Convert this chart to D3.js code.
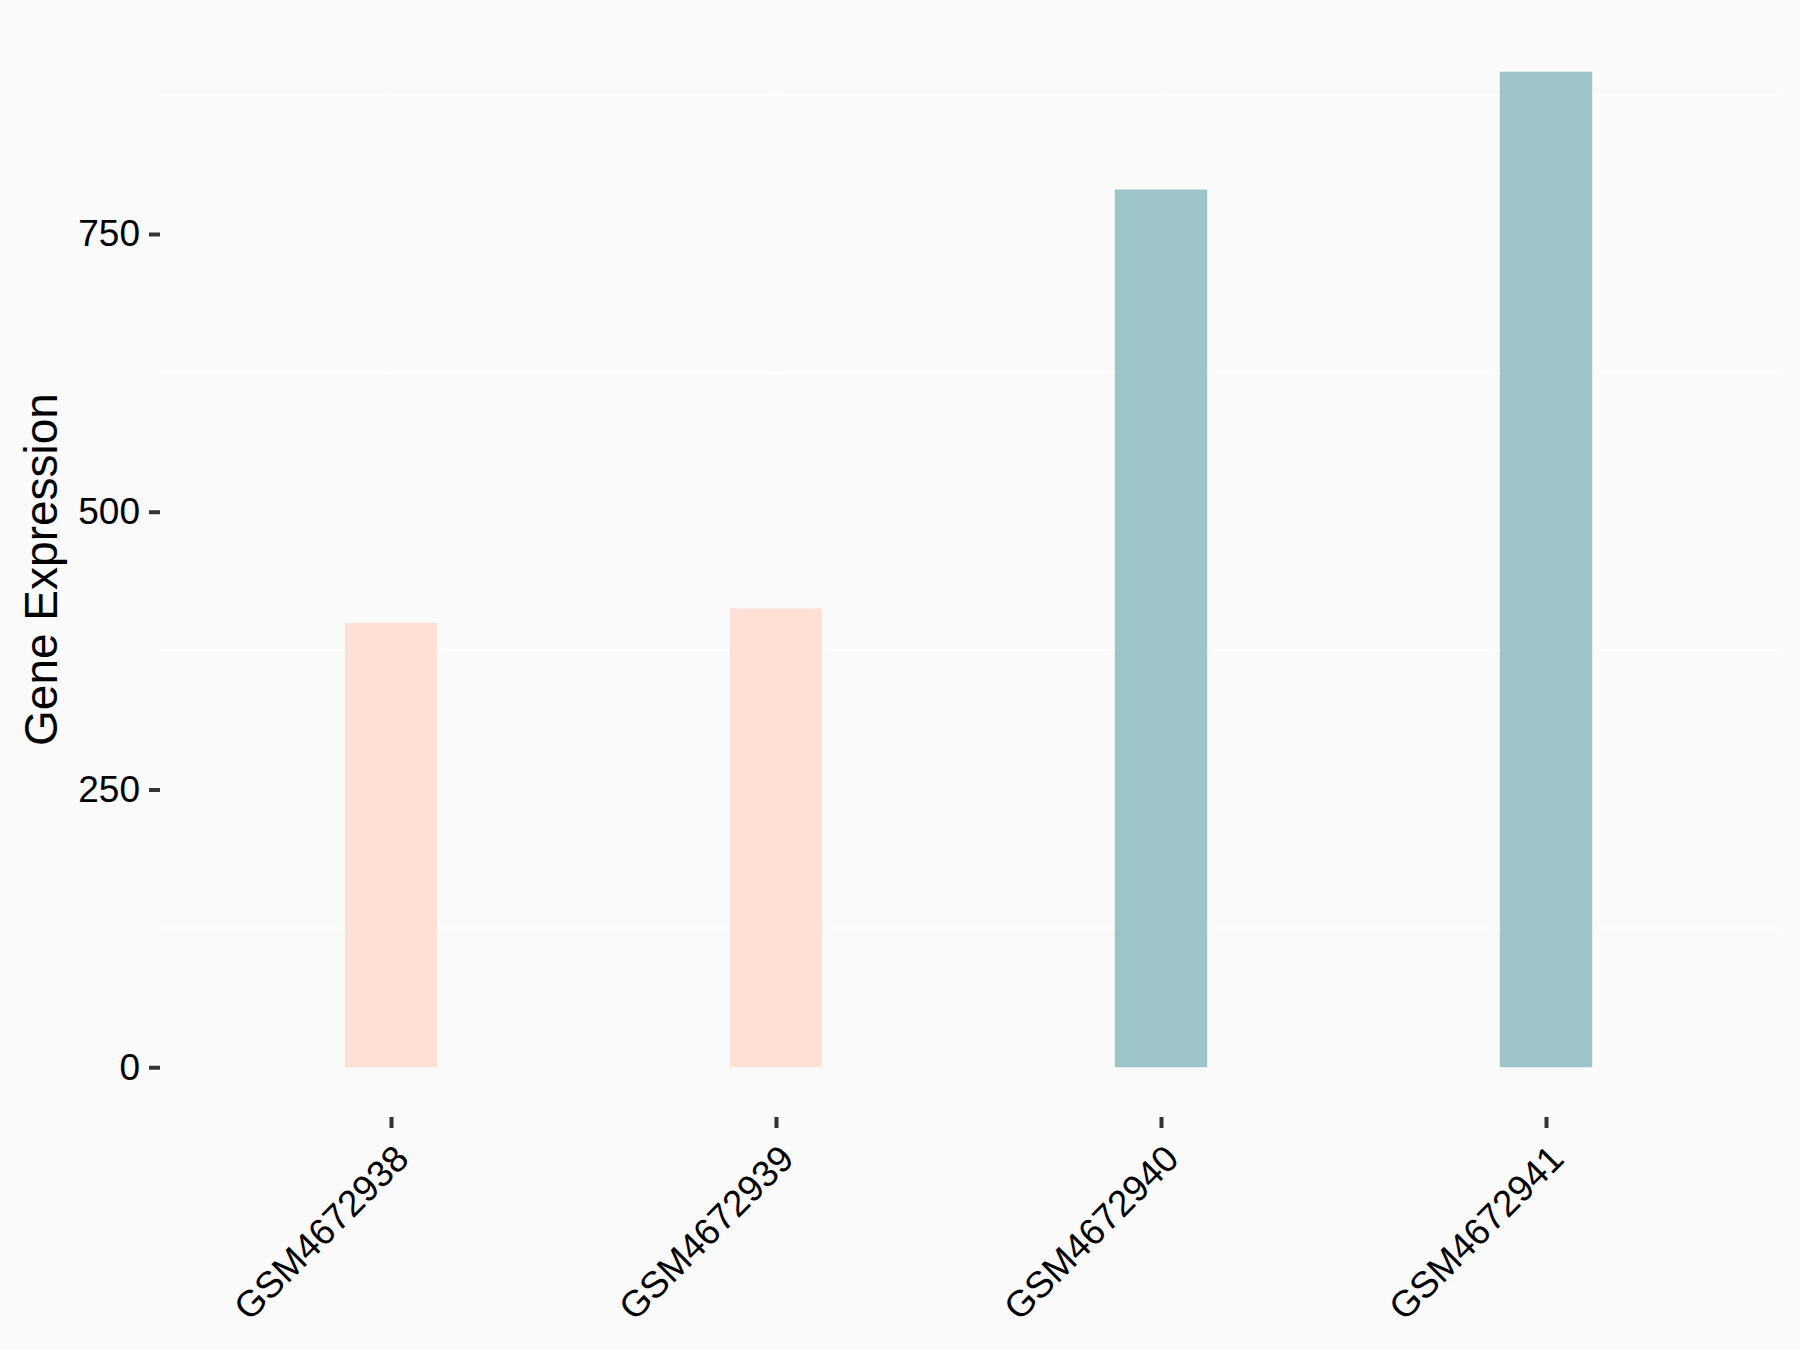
<!DOCTYPE html>
<html>
<head>
<meta charset="utf-8">
<script src="https://cdn.jsdelivr.net/npm/d3@7"></script>
<style>
  html, body { margin: 0; padding: 0; background: #FAFAFA; }
  svg { display: block; }
</style>
</head>
<body>
<div id="chart"></div>
<script>
// samples and expression values
var samples = ["GSM4672938", "GSM4672939", "GSM4672940", "GSM4672941"];
var expression = [400, 413, 790, 896];
var groups = ["low", "low", "high", "high"];
var yTicks = [0, 250, 500, 750];
var yMinor = [125, 375, 625, 875];

var width = 1800, height = 1350;
var margin = {top: 22, right: 23, bottom: 233, left: 160};

//ggplot style 5% expansion on the continuous axis
var yMax = d3.max(expression);
var pad = yMax * 0.05;

var x = d3.scalePoint()
  .domain(samples)
  .range([margin.left, width - margin.right])
  .padding(0.6);

var y = d3.scaleLinear()
  .domain([-pad, yMax + pad])
  .range([height - margin.bottom, margin.top]);

var color = d3.scaleOrdinal()
  .domain(["low", "high"])
  .range(["#FFE0D6", "#9DC4C8"]);

var svg = d3.select("#chart").append("svg")
  .attr("width", width)
  .attr("height", height);

svg.append("rect")
  .attr("width", width)
  .attr("height", height)
  .attr("fill", "#FAFAFA");

//minor grid only (white), majors match the background
svg.append("g").selectAll("line")
  .data(yMinor)
  .enter().append("line")
  .attr("x1", margin.left)
  .attr("x2", width - margin.right)
  .attr("y1", d => y(d))
  .attr("y2", d => y(d))
  .attr("stroke", "#FFFFFF")
  .attr("stroke-width", 2);

svg.append("g").selectAll("line")
  .data(samples)
  .enter().append("line")
  .attr("x1", d => x(d))
  .attr("x2", d => x(d))
  .attr("y1", margin.top)
  .attr("y2", height - margin.bottom)
  .attr("stroke", "#FAFAFA")
  .attr("stroke-width", 1.5);

//bars
var barW = x.step() * 0.24;
svg.append("g").selectAll("rect")
  .data(samples)
  .enter().append("rect")
  .attr("x", d => x(d) - barW / 2)
  .attr("width", barW)
  .attr("y", (d, i) => y(expression[i]))
  .attr("height", (d, i) => y(0) - y(expression[i]))
  .attr("fill", (d, i) => color(groups[i]));

//y axis
var yAxis = svg.append("g")
  .attr("transform", "translate(" + margin.left + ",0)")
  .call(d3.axisLeft(y).tickValues(yTicks).tickSize(11).tickPadding(9));
yAxis.select(".domain").remove();
yAxis.selectAll(".tick line").attr("stroke", "#333333").attr("stroke-width", 4);
yAxis.selectAll(".tick text")
  .attr("fill", "#000000")
  .style("font-family", "'Liberation Sans', Arial, sans-serif")
  .style("font-size", "37px");

//x axis
var xAxis = svg.append("g")
  .attr("transform", "translate(0," + (height - margin.bottom) + ")")
  .call(d3.axisBottom(x).tickSize(11).tickFormat(""));
xAxis.select(".domain").remove();
xAxis.selectAll(".tick line").attr("stroke", "#333333").attr("stroke-width", 4);

svg.append("g").selectAll("text")
  .data(samples)
  .enter().append("text")
  .attr("transform", d => "translate(" + (x(d) + 1) + "," + (height - margin.bottom + 25) + ") rotate(-45)")
  .attr("text-anchor", "end")
  .attr("dy", "0.72em")
  .attr("fill", "#000000")
  .style("font-family", "'Liberation Sans', Arial, sans-serif")
  .style("font-size", "37px")
  .text(d => d);

//y title
svg.append("text")
  .attr("transform", "translate(57," + ((margin.top + height - margin.bottom) / 2) + ") rotate(-90)")
  .attr("text-anchor", "middle")
  .attr("fill", "#000000")
  .style("font-family", "'Liberation Sans', Arial, sans-serif")
  .style("font-size", "46px")
  .text("Gene Expression");
</script>
</body>
</html>
